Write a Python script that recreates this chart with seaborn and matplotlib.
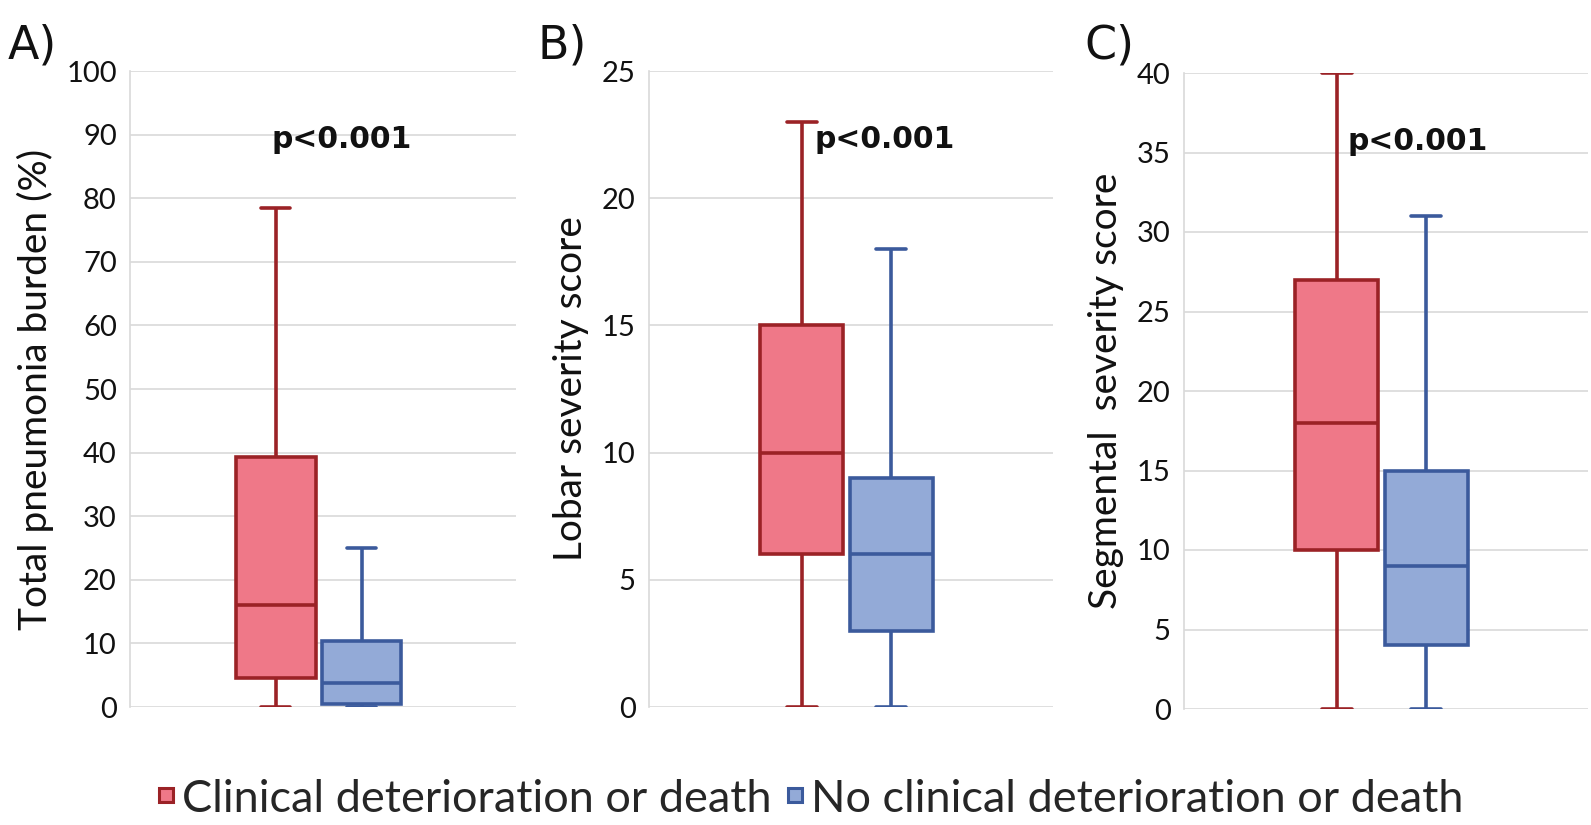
import numpy as np
import pandas as pd
import matplotlib
matplotlib.use("Agg")
import matplotlib.pyplot as plt
from matplotlib.patches import Patch
import seaborn as sns

# ---- data: five-number summaries [min, q1, median, q3, max] ----
groups = ["Clinical deterioration or death", "No clinical deterioration or death"]
panel_letters = ["A)", "B)", "C)"]
ylabels = ["Total pneumonia burden (%)", "Lobar severity score", "Segmental  severity score"]
burden_det = [0, 4.5, 16, 39.3, 78.5]
burden_nodet = [0, 0.5, 3.7, 10.3, 25]
lobar_det = [0, 6, 10, 15, 23]
lobar_nodet = [0, 3, 6, 9, 18]
segm_det = [0, 10, 18, 27, 40]
segm_nodet = [0, 4, 9, 15, 31]
ymax = [100, 25, 40]
ystep = [10, 5, 5]
pvalue_text = "p<0.001"

fills = ["#EF7888", "#93AAD7"]
edges = ["#9B2226", "#3B5A9C"]

sns.set_theme(style="white")
plt.rcParams["font.family"] = ["Lato", "DejaVu Sans"]

W, H = 1591, 825
fig = plt.figure(figsize=(W / 100, H / 100), dpi=100)
# pixel boxes: left, right, top, bottom
boxes_px = [(130, 516, 71, 707), (649, 1053, 71, 707), (1184, 1588, 73, 709)]
letter_x = [8 / W, 538 / W, 1084 / W]
ptext_x = [0.549, 0.584, 0.578]

series = [(burden_det, burden_nodet), (lobar_det, lobar_nodet), (segm_det, segm_nodet)]

for i in range(3):
    l, r, t, b = boxes_px[i]
    ax = fig.add_axes([l / W, 1 - b / H, (r - l) / W, (b - t) / H])
    a, bb = series[i]
    df = pd.DataFrame({
        "value": list(a) + list(bb),
        "group": [groups[0]] * len(a) + [groups[1]] * len(bb),
        "cat": ["x"] * (len(a) + len(bb)),
    })
    sns.boxplot(data=df, x="cat", y="value", hue="group", hue_order=groups,
                whis=np.inf, width=0.8, gap=0.07, palette=fills,
                linewidth=2.4, linecolor=edges[0], legend=False, ax=ax)
    # recolor each hue's artists
    for k, cont in enumerate(ax.containers):
        for bx in cont.boxes:
            bx.set_facecolor(fills[k])
            bx.set_edgecolor(edges[k])
            bx.set_linewidth(2.6)
        for ln in list(cont.whiskers) + list(cont.caps) + list(cont.medians):
            ln.set_color(edges[k])
            ln.set_linewidth(2.6)
        for cap in cont.caps:
            xd = np.asarray(cap.get_xdata(), dtype=float)
            c = xd.mean()
            cap.set_xdata(c + (xd - c) * 0.72)
    ax.set_xlim(-0.88, 0.92)
    ax.set_ylim(0, ymax[i])
    ticks = np.arange(0, ymax[i] + 0.1, ystep[i])
    ax.set_yticks(ticks)
    ax.set_yticklabels([f"{int(v)}" for v in ticks], fontsize=21, color="#111111")
    ax.tick_params(axis="y", length=0, pad=9.5)
    ax.set_xticks([])
    ax.set_xlabel("")
    ax.set_ylabel(ylabels[i], fontsize=28, color="#111111", labelpad=9)
    ax.yaxis.grid(True, color="#D9D9D9", linewidth=1.2)
    ax.set_axisbelow(True)
    for name, s in ax.spines.items():
        if name == "left":
            s.set_visible(True)
            s.set_color("#D9D9D9")
            s.set_linewidth(1.2)
        else:
            s.set_visible(False)
    ax.text(ptext_x[i], 0.893, pvalue_text, transform=ax.transAxes,
            ha="center", va="center", fontsize=21.5, fontweight="bold",
            family="DejaVu Sans", color="#111111")
    fig.text(letter_x[i], 0.944, panel_letters[i], ha="left", va="center",
             fontsize=33, family="DejaVu Sans", color="#111111")

handles = [Patch(facecolor=fills[k], edgecolor=edges[k], linewidth=2.2) for k in range(2)]
fig.legend(handles, groups, loc="center", bbox_to_anchor=(0.51, 0.031), ncol=2,
           frameon=False, fontsize=32.5, handlelength=0.31, handleheight=0.1,
           handletextpad=0.2, columnspacing=0.35, borderaxespad=0)

fig.savefig("out.png", dpi=100, facecolor="white")
